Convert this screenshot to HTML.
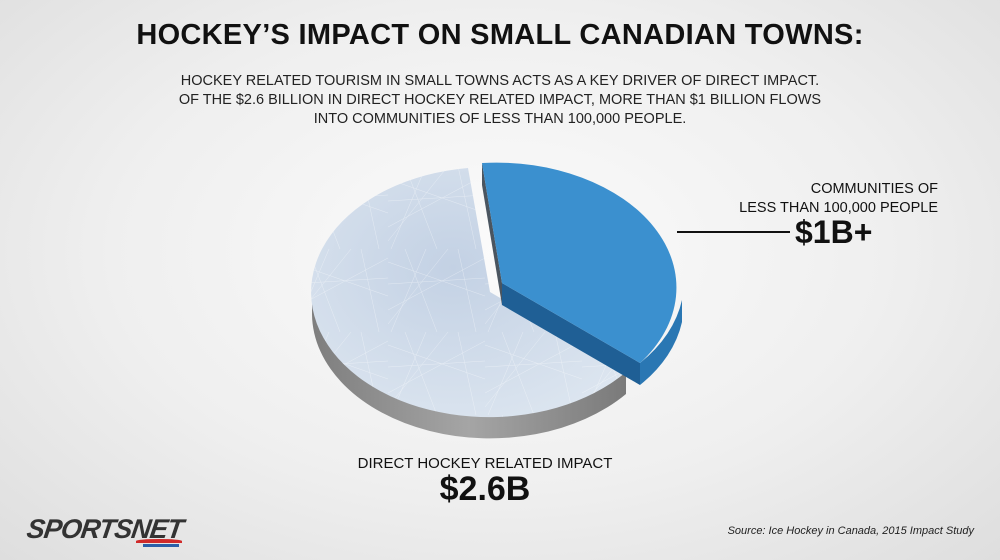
<!DOCTYPE html>
<html><head><meta charset="utf-8"><style>
body{margin:0;width:1000px;height:560px;overflow:hidden;font-family:"Liberation Sans",sans-serif;}
.bg{position:absolute;inset:0;width:1000px;height:560px;background:radial-gradient(ellipse at 50% 45%,#fbfbfb 0%,#efefef 55%,#dedede 100%);}
.t{position:absolute;left:0;width:1000px;text-align:center;color:#111;}
</style></head><body><div class="bg"></div>
<div class="t" style="top:19px;font-size:29px;font-weight:bold;letter-spacing:0.3px">HOCKEY’S IMPACT ON SMALL CANADIAN TOWNS:</div>
<div class="t" style="top:72px;font-size:14.5px;line-height:19px;color:#222">HOCKEY RELATED TOURISM IN SMALL TOWNS ACTS AS A KEY DRIVER OF DIRECT IMPACT.<br>OF THE $2.6 BILLION IN DIRECT HOCKEY RELATED IMPACT, MORE THAN $1 BILLION FLOWS<br>INTO COMMUNITIES OF LESS THAN 100,000 PEOPLE.</div>
<svg width="1000" height="560" style="position:absolute;left:0;top:0">
<defs>
<linearGradient id="g" x1="0" x2="1"><stop offset="0" stop-color="#7e7e7e"/><stop offset="0.5" stop-color="#a5a5a5"/><stop offset="1" stop-color="#7a7a7a"/></linearGradient>
<radialGradient id="ice" cx="0.45" cy="0.4" r="0.7"><stop offset="0" stop-color="#c3d1e4"/><stop offset="1" stop-color="#dde6f0"/></radialGradient>
<pattern id="scr" width="97" height="83" patternUnits="userSpaceOnUse"><path d="M0 13L97 47M17 0L49 83M0 61L97 9M38 0L3 83M0 35L97 29M70 0L88 83M0 75L60 0" stroke="#fff" stroke-width="0.5" opacity="0.45"/></pattern>
</defs>
<!-- ice side -->
<path d="M312,292 A178,125 0 0 0 626,372 L626,394 A178,125 0 0 1 312,314 Z" fill="url(#g)"/>
<!-- ice top -->
<path d="M490,292 L626,372 A178,125 0 1 1 468,168 Z" fill="url(#ice)"/>
<path d="M490,292 L626,372 A178,125 0 1 1 468,168 Z" fill="url(#scr)"/>
<!-- blue sides -->
<path d="M502,283 L640,363 L640,385 L502,305 Z" fill="#1f5f95"/>
<path d="M502,283 L482,163 L482,185 L502,305 Z" fill="#4a5560"/>
<path d="M640,363 A180,125 0 0 0 682,300 L682,322 A180,125 0 0 1 640,385 Z" fill="#2a77b3"/>
<path d="M502,283 L482,163 A180,125 0 0 1 640,363 Z" fill="#3b90cf"/>
<line x1="677" y1="232" x2="790" y2="232" stroke="#111" stroke-width="2"/>
</svg>
<div style="position:absolute;left:700px;top:180px;width:238px;text-align:right;font-size:14.5px;line-height:19px;color:#111">COMMUNITIES OF<br>LESS THAN 100,000 PEOPLE</div>
<div style="position:absolute;left:795px;top:214px;font-size:32px;font-weight:bold;color:#111">$1B+</div>
<div class="t" style="top:455px;font-size:15px;left:-15px">DIRECT HOCKEY RELATED IMPACT</div>
<div class="t" style="top:470px;font-size:34px;font-weight:bold;left:-15px">$2.6B</div>
<div style="position:absolute;left:27px;top:514px;font-size:27px;font-weight:900;font-style:italic;color:#333;letter-spacing:-1px;transform:skewX(-8deg)">SPORTSNET</div>
<div style="position:absolute;left:136px;top:539px;width:46px;height:4px;background:#d02a2a;border-radius:50% 50% 0 0"></div>
<div style="position:absolute;left:143px;top:544px;width:36px;height:3px;background:#2b5fa8"></div>
<div style="position:absolute;right:26px;top:525px;font-size:11px;font-style:italic;color:#222">Source: Ice Hockey in Canada, 2015 Impact Study</div>
</body></html>
